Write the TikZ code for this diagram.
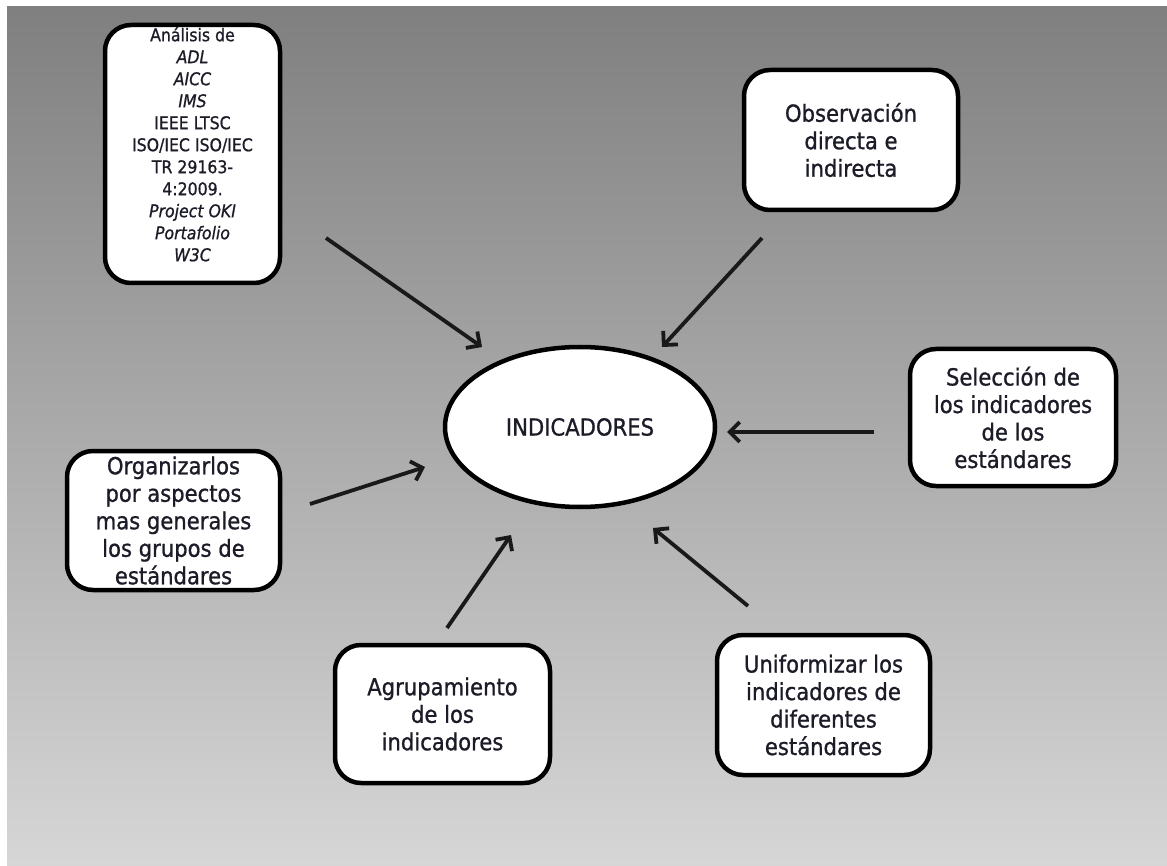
\documentclass[tikz,border=0pt]{standalone}
\usepackage{fontspec}
\setmainfont[RawFeature={embolden=0.9}]{DejaVu Sans Condensed}
\usetikzlibrary{arrows.meta,shapes.geometric,shadows}
\definecolor{inkcol}{HTML}{1C1C28}
\tikzset{
  every node/.style={text=inkcol},
  bubble/.style={draw=black, fill=white, line width=4.5pt, rounded corners=26pt,
    align=center, inner sep=0pt,
    drop shadow={opacity=0.25, shadow xshift=1.5pt, shadow yshift=-1.5pt},
    font=\fontsize{23.5}{27.5}\selectfont},
  hub/.style={draw=black, fill=white, line width=4.5pt, ellipse, inner sep=0pt,
    drop shadow={opacity=0.25, shadow xshift=1.5pt, shadow yshift=-1.5pt},
    font=\fontsize{23.5}{28}\selectfont},
  feed/.style={line width=3.8pt, draw=black!90,
    -{Straight Barb[length=10pt, width=20pt, line width=3.8pt]}},
}
\begin{document}
\begin{tikzpicture}[x=1pt, y=-1pt]
  \useasboundingbox (0,0) rectangle (1167,866);
  % canvas
  \fill[white] (0,0) rectangle (1167,866);
  \shade[top color=black!50, bottom color=black!16] (7,7) rectangle (1167,866);

  % central ellipse
  \node[hub, minimum width=270pt, minimum height=160pt] (ind) at (580,427) {INDICADORES};

  % surrounding boxes
  \node[bubble, minimum width=175pt, minimum height=258pt] (std) at (192.5,154) {};
  \node[align=center, inner sep=0pt, font=\fontsize{17.5}{22}\selectfont, anchor=north]
    (stdtxt) at (192.5,27)
    {Análisis de\\ \textit{ADL}\\ \textit{AICC}\\ \textit{IMS}\\ IEEE LTSC\\ ISO/IEC ISO/IEC\\
     TR 29163-\\ 4:2009.\\ \textit{Project OKI}\\ \textit{Portafolio}\\ \textit{W3C}};

  \node[bubble, minimum width=214pt, minimum height=140pt] (obs) at (851,140)
    {Observación\\ directa e\\ indirecta};
  \node[bubble, minimum width=206pt, minimum height=137pt] (sel) at (1013,417.5)
    {Selección de\\ los indicadores\\ de los\\ estándares};
  \node[bubble, minimum width=213pt, minimum height=139pt] (org) at (173.5,520.5)
    {Organizarlos\\ por aspectos\\ mas generales\\ los grupos de\\ estándares};
  \node[bubble, minimum width=215pt, minimum height=138pt] (agr) at (442.5,714)
    {Agrupamiento\\ de los\\ indicadores};
  \node[bubble, minimum width=213pt, minimum height=140pt] (uni) at (823.5,705)
    {Uniformizar los\\ indicadores de\\ diferentes\\ estándares};

  % arrow end points
  \coordinate (a1) at (326,238);  \coordinate (b1) at (482,347);
  \coordinate (a2) at (762,238);  \coordinate (b2) at (662,347);
  \coordinate (a3) at (874,432);  \coordinate (b3) at (727,432);
  \coordinate (a4) at (310,504);  \coordinate (b4) at (425,467);
  \coordinate (a5) at (447,628);  \coordinate (b5) at (511,535);
  \coordinate (a6) at (748,606);  \coordinate (b6) at (653,528);

  \draw[feed] (a1) -- (b1);
  \draw[feed] (a2) -- (b2);
  \draw[feed] (a3) -- (b3);
  \draw[feed] (a4) -- (b4);
  \draw[feed] (a5) -- (b5);
  \draw[feed] (a6) -- (b6);
\end{tikzpicture}
\end{document}
